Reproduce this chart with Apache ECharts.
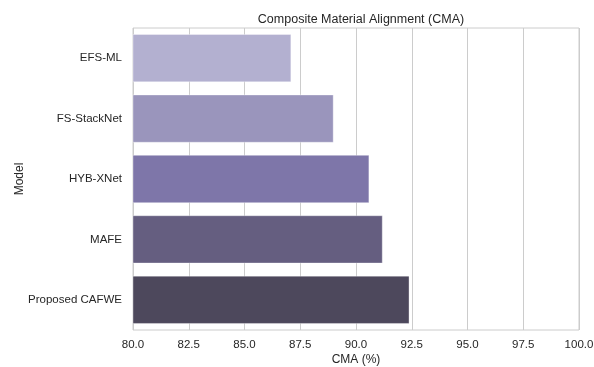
<!DOCTYPE html>
<html>
<head>
<meta charset="utf-8">
<script src="https://cdn.jsdelivr.net/npm/echarts@6/dist/echarts.min.js"></script>
<style>html,body{margin:0;padding:0;background:#fff}#c{width:594px;height:367px}</style>
</head>
<body>
<div id="c"></div>
<script>
var models = ["EFS-ML", "FS-StackNet", "HYB-XNet", "MAFE", "Proposed CAFWE"];
var cmaValues = [87.1, 89.0, 90.6, 91.2, 92.4];
var barColors = ["#b3b0d0", "#9a95bc", "#7e76a9", "#655e80", "#4d485c"];
var xTicks = [80, 82.5, 85, 87.5, 90, 92.5, 95, 97.5, 100];

var chart = echarts.init(document.getElementById('c'));
var font = "'Liberation Sans', Arial, sans-serif";
chart.setOption({
  animation: false,
  title: {
    text: "Composite Material Alignment (CMA)",
    left: 356, top: 8, textAlign: 'center',
    textStyle: {fontFamily: font, fontSize: 12.5, fontWeight: 'normal', color: '#262626'}
  },
  grid: {left: 133, right: 15, top: 28, bottom: 37, outerBoundsMode: 'none', containLabel: false,
    show: true, borderColor: '#cccccc', borderWidth: 1, backgroundColor: '#fff'},
  xAxis: {
    type: 'value', min: xTicks[0], max: xTicks[xTicks.length - 1], interval: 2.5,
    name: "CMA (%)", nameLocation: 'middle', nameGap: 24, nameMoveOverlap: false,
    nameTextStyle: {fontFamily: font, fontSize: 12, color: '#262626'},
    axisLine: {show: false}, axisTick: {show: false},
    axisLabel: {fontFamily: font, fontSize: 11.5, color: '#262626', margin: 9,
      formatter: function (v) { return v.toFixed(1); }},
    splitLine: {show: true, lineStyle: {color: '#cccccc', width: 1}}
  },
  yAxis: {
    type: 'category', data: models, inverse: true,
    name: "Model", nameLocation: 'middle', nameGap: 107, nameRotate: 90, nameMoveOverlap: false,
    nameTextStyle: {fontFamily: font, fontSize: 12, color: '#262626'},
    axisLine: {show: false}, axisTick: {show: false},
    axisLabel: {fontFamily: font, fontSize: 11.5, color: '#262626', margin: 11},
    splitLine: {show: false}
  },
  series: [{
    type: 'bar',
    barCategoryGap: '20%',
    data: cmaValues.map(function (v, i) {
      return {value: v, itemStyle: {color: barColors[i], borderColor: 'rgba(255,255,255,0.35)', borderWidth: 1}};
    })
  }]
});
</script>
</body>
</html>
